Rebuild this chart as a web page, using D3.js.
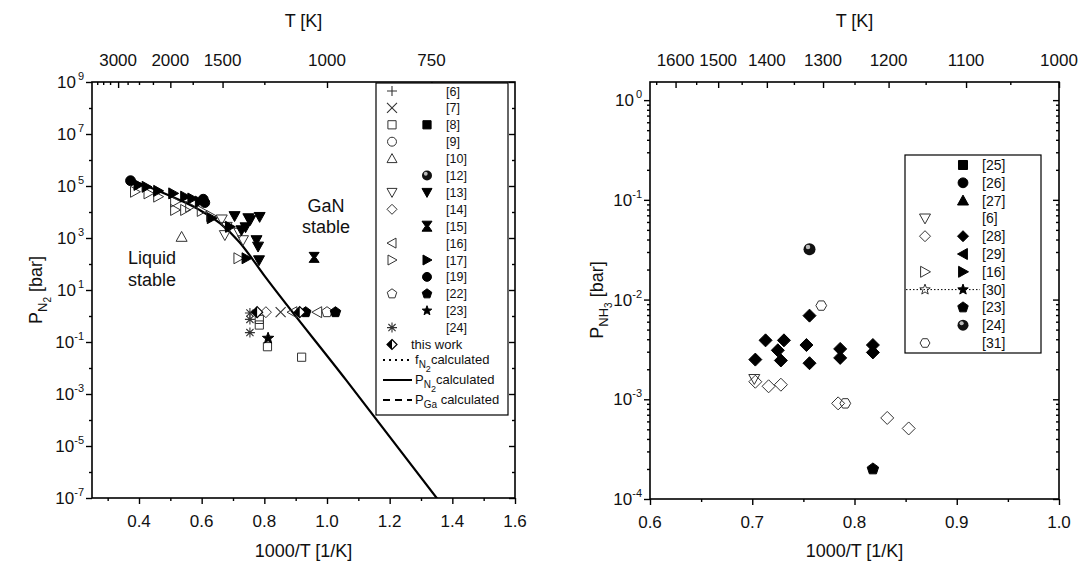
<!DOCTYPE html>
<html>
<head>
<meta charset="utf-8">
<title>GaN : N2 and NH3 pressure vs 1000/T</title>
<script src="https://d3js.org/d3.v7.min.js"></script>
<style>
  body { margin: 0; background: #fff; }
  svg text { font-family: "Liberation Sans", Arial, sans-serif; fill: #111; }
</style>
</head>
<body>
<svg id="chart" width="1081" height="564"></svg>

<script type="text/javascript">
// ---------- left panel : P_N2 [bar] vs 1000/T ----------
const leftBottomTicks = [0.4, 0.6, 0.8, 1.0, 1.2, 1.4, 1.6];
const leftBottomMinor = [0.3, 0.5, 0.7, 0.9, 1.1, 1.3, 1.5];
const leftTopTemps = [3000, 2000, 1500, 1000, 750];
const leftTopMinorTemps = [3750, 3500, 3250, 2750, 2500, 2250, 1750, 1250];
const leftYExps = [9, 7, 5, 3, 1, -1, -3, -5, -7];
const leftYMinorExps = [8, 6, 4, 2, 0, -2, -4, -6];

// [1000/T, P bar]
const pN2Calc = [[0.37, 1.78e5], [0.47, 5.9e4], [0.59, 1.26e4], [0.66, 3.55e3], [0.72, 708], [0.80, 35.5], [1.06, 3.55e-3], [1.36, 7e-8]];
const ref7 = [[0.852, 1.4]];
const ref8Open = [[0.784, 0.74], [0.784, 0.45], [0.81, 0.066], [0.919, 0.026]];
const ref10 = [[0.536, 1.1e3]];
const ref13Open = [[0.664, 5.2e3], [0.68, 2.7e3], [0.674, 1.3e3], [0.72, 1.6e3], [0.732, 830]];
const ref13Filled = [[0.705, 7.0e3], [0.749, 5.8e3], [0.785, 6.5e3], [0.727, 2.0e3], [0.74, 2.6e3], [0.755, 4.9e3], [0.775, 830], [0.78, 470], [0.783, 140]];
const ref14 = [[0.805, 1.4]];
const ref15 = [[0.959, 180]];
const ref16 = [[0.89, 1.4], [0.969, 1.4]];
const ref17Open = [[0.387, 6.0e4], [0.43, 5.2e4], [0.461, 3.9e4], [0.515, 2.5e4], [0.515, 1.2e4], [0.547, 1.2e4], [0.563, 1.6e4], [0.6, 1.1e4], [0.63, 7.0e3], [0.717, 166]];
const ref17Filled = [[0.398, 1.1e5], [0.424, 9.3e4], [0.461, 6.5e4], [0.509, 5.2e4], [0.547, 3.9e4], [0.57, 3.3e4], [0.594, 2.5e4], [0.632, 5.8e3], [0.69, 2.7e3], [0.743, 166]];
const ref19 = [[0.373, 1.6e5], [0.605, 3.1e4], [0.61, 2.3e4]];
const ref22Open = [[1.0, 1.4]];
const ref22Filled = [[0.932, 1.4], [1.027, 1.4]];
const ref23 = [[0.812, 0.14]];
const ref24 = [[0.754, 1.3], [0.754, 0.74], [0.754, 0.23]];
const thisWork = [[0.777, 1.4], [0.913, 1.4]];

const leftLegendLabels = ["[6]", "[7]", "[8]", "[9]", "[10]", "[12]", "[13]", "[14]", "[15]", "[16]", "[17]", "[19]", "[22]", "[23]", "[24]", "this work"];
const leftLegendOpen = ["plus", "cross", "square", "circle", "triUp", null, "triDown", "diamond", null, "triLeft", "triRight", null, "pentagon", null, "asterisk", "halfDiamond"];
const leftLegendFilled = [null, null, "square", null, null, "sphere", "triDown", null, "hourglass", null, "triRight", "circle", "pentagon", "star", null, null];

// ---------- right panel : P_NH3 [bar] vs 1000/T ----------
const rightBottomTicks = [0.6, 0.7, 0.8, 0.9, 1.0];
const rightBottomMinor = [0.65, 0.75, 0.85, 0.95];
const rightTopTemps = [1600, 1500, 1400, 1300, 1200, 1100, 1000];
const rightTopMinorTemps = [1650, 1550, 1450, 1350, 1250, 1150, 1050];
const rightYExps = [0, -1, -2, -3, -4];

const nh3Ref6 = [[0.702, 1.6e-3]];
const nh3Ref23 = [[0.818, 2.0e-4]];
const nh3Ref24 = [[0.756, 0.032]];
const nh3Ref28Open = [[0.703, 1.5e-3], [0.716, 1.35e-3], [0.728, 1.4e-3], [0.784, 9.1e-4], [0.832, 6.5e-4], [0.853, 5.1e-4]];
const nh3Ref28Filled = [[0.756, 6.9e-3], [0.713, 3.9e-3], [0.731, 3.9e-3], [0.753, 3.5e-3], [0.725, 3.1e-3], [0.703, 2.5e-3], [0.728, 2.45e-3], [0.786, 3.2e-3], [0.786, 2.6e-3], [0.818, 3.5e-3], [0.818, 2.95e-3], [0.756, 2.3e-3]];
const nh3Ref31 = [[0.7675, 8.7e-3], [0.791, 9.1e-4]];

const rightLegendLabels = ["[25]", "[26]", "[27]", "[6]", "[28]", "[29]", "[16]", "[30]", "[23]", "[24]", "[31]"];
const rightLegendOpen = [null, null, null, "triDown", "diamond", null, "triRight", "star", null, null, "hexagon"];
const rightLegendFilled = ["square", "circle", "triUp", null, "diamond", "triLeft", "triRight", "star", "pentagon", "sphere", null];

const svg = d3.select("#chart");

const leftX = d3.scaleLinear().domain([0.25, 1.6]).range([92, 515]);
const leftY = d3.scaleLog().domain([1e-7, 1e9]).range([498, 82]);
const rightX = d3.scaleLinear().domain([0.6, 1.0]).range([650, 1059]);
const rightY = d3.scaleLog().domain([1e-4, 1.52]).range([499, 82]);

function markerPath(type, r) {
	const poly = pts => "M" + pts.map(p => p[0].toFixed(2) + "," + p[1].toFixed(2)).join("L") + "Z";
	const ring = (n, rad, a0) => d3.range(n).map(i => {
		const a = a0 + i * 2 * Math.PI / n;
		return [rad * Math.cos(a), rad * Math.sin(a)];
	});
	const s = r * 0.82, d = r * 0.72;
	switch (type) {
		case "square": return poly([[-s, -s], [s, -s], [s, s], [-s, s]]);
		case "circle": return d3.symbol(d3.symbolCircle, Math.PI * r * r * 0.8)();
		case "triUp": return poly([[0, -r], [r, r * 0.8], [-r, r * 0.8]]);
		case "triDown": return poly([[0, r], [r, -r * 0.8], [-r, -r * 0.8]]);
		case "triLeft": return poly([[-r, 0], [r * 0.8, -r], [r * 0.8, r]]);
		case "triRight": return poly([[r, 0], [-r * 0.8, -r], [-r * 0.8, r]]);
		case "diamond": return poly([[0, -r], [r, 0], [0, r], [-r, 0]]);
		case "pentagon": return poly(ring(5, r, -Math.PI / 2));
		case "hexagon": return poly(ring(6, r * 0.9, 0));
		case "star": return poly(d3.range(10).map(i => {
			const a = -Math.PI / 2 + i * Math.PI / 5, rr = i % 2 ? r * 0.42 : r;
			return [rr * Math.cos(a), rr * Math.sin(a)];
		}));
		case "hourglass": return poly([[-r, -r], [r, -r], [r * 0.3, 0], [r, r], [-r, r], [-r * 0.3, 0]]);
		case "plus": return `M${-r},0H${r}M0,${-r}V${r}`;
		case "cross": return `M${-r},${-r}L${r},${r}M${-r},${r}L${r},${-r}`;
		case "asterisk": return `M${-r},0H${r}M0,${-r}V${r}M${-d},${-d}L${d},${d}M${-d},${d}L${d},${-d}`;
	}
}

function drawMarker(g, type, filled, cx, cy, r) {
	const m = g.append("g").attr("transform", `translate(${cx},${cy})`);
	if (type === "sphere") {
		m.append("circle").attr("r", r).attr("fill", "#111");
		m.append("circle").attr("cx", -r * 0.25).attr("cy", -r * 0.35).attr("r", r * 0.38).attr("fill", "#bbb");
		return;
	}
	if (type === "halfDiamond") {
		m.append("path").attr("d", markerPath("diamond", r)).attr("fill", "#fff").attr("stroke", "#000").attr("stroke-width", 1.2);
		m.append("path").attr("d", `M0,${-r}L${-r},0L0,${r}Z`).attr("fill", "#000");
		return;
	}
	const lineOnly = ["plus", "cross", "asterisk"].includes(type);
	m.append("path").attr("d", markerPath(type, r))
		.attr("fill", lineOnly ? "none" : (filled ? "#000" : "none"))
		.attr("stroke", filled ? "#000" : "#333")
		.attr("stroke-width", lineOnly ? 1.1 : 1);
}

function drawSeries(x, y, data, type, filled, r) {
	const g = svg.append("g");
	data.forEach(d => drawMarker(g, type, filled, x(d[0]), y(d[1]), r));
}

function tickGroup(axisFn, scale, values, size, transform) {
	svg.append("g").attr("transform", transform)
		.call(axisFn(scale).tickValues(values).tickSize(size).tickFormat(""))
		.call(g => g.select(".domain").remove())
		.selectAll("line").attr("stroke", "#000").attr("stroke-width", 1.4);
}

function expLabel(xPos, yPos, exp) {
	const t = svg.append("text").attr("x", xPos).attr("y", yPos + 6).attr("text-anchor", "end").attr("font-size", 17);
	t.append("tspan").text("10");
	t.append("tspan").attr("dy", -8).attr("dx", exp >= 0 ? 2 : 0).attr("font-size", 11).text(exp);
}

function frameAndAxes(x, y, bottomMajor, bottomMinor, topMajorT, topMinorT, yMajor, yMinor) {
	const [x0, x1] = x.range();
	const [y0, y1] = y.range();
	tickGroup(d3.axisBottom, x, bottomMajor, 6, `translate(0,${y0})`);
	tickGroup(d3.axisBottom, x, bottomMinor, 3, `translate(0,${y0})`);
	tickGroup(d3.axisTop, x, topMajorT.map(t => 1000 / t), -6, `translate(0,${y1})`);
	tickGroup(d3.axisTop, x, topMinorT.map(t => 1000 / t), -3, `translate(0,${y1})`);
	tickGroup(d3.axisLeft, y, yMajor, 6, `translate(${x0},0)`);
	tickGroup(d3.axisLeft, y, yMinor, 3, `translate(${x0},0)`);
	tickGroup(d3.axisRight, y, yMajor, -6, `translate(${x1},0)`);
	tickGroup(d3.axisRight, y, yMinor, -3, `translate(${x1},0)`);
	svg.append("rect").attr("x", x0).attr("y", y1).attr("width", x1 - x0).attr("height", y0 - y1)
		.attr("fill", "none").attr("stroke", "#000").attr("stroke-width", 1.6);

	bottomMajor.forEach(v => svg.append("text").attr("x", x(v)).attr("y", y0 + 29)
		.attr("text-anchor", "middle").attr("font-size", 17).text(d3.format(".1f")(v)));
	topMajorT.forEach(t => svg.append("text").attr("x", x(1000 / t)).attr("y", 66)
		.attr("text-anchor", "middle").attr("font-size", 17).text(t));
	yMajor.forEach(v => expLabel(x0 - 8, y(v), Math.round(Math.log10(v))));

	const cx = (x0 + x1) / 2;
	svg.append("text").attr("x", cx).attr("y", 557).attr("text-anchor", "middle").attr("font-size", 18).text("1000/T [1/K]");
	svg.append("text").attr("x", cx).attr("y", 27).attr("text-anchor", "middle").attr("font-size", 18).text("T [K]");
}

function yTitle(xPos, yPos, sub, subsub) {
	const t = svg.append("text").attr("transform", `translate(${xPos},${yPos}) rotate(-90)`)
		.attr("text-anchor", "middle").attr("font-size", 18);
	t.append("tspan").text("P");
	t.append("tspan").attr("dy", 5).attr("font-size", 13).text(sub);
	t.append("tspan").attr("dy", 4).attr("font-size", 10).text(subsub);
	t.append("tspan").attr("dy", -9).attr("font-size", 18).text(" [bar]");
}

// ---------- left panel ----------
frameAndAxes(leftX, leftY, leftBottomTicks, leftBottomMinor, leftTopTemps, leftTopMinorTemps,
	leftYExps.map(e => Math.pow(10, e)), leftYMinorExps.map(e => Math.pow(10, e)));
yTitle(42, 290, "N", "2");

svg.append("clipPath").attr("id", "clipL").append("rect")
	.attr("x", 92).attr("y", 82).attr("width", 423).attr("height", 416);

svg.append("path").datum(pN2Calc)
	.attr("clip-path", "url(#clipL)")
	.attr("fill", "none").attr("stroke", "#000").attr("stroke-width", 2.2)
	.attr("d", d3.line().x(d => leftX(d[0])).y(d => leftY(d[1])).curve(d3.curveMonotoneX));

drawSeries(leftX, leftY, ref17Open, "triRight", false, 5.5);
drawSeries(leftX, leftY, ref13Open, "triDown", false, 5.5);
drawSeries(leftX, leftY, ref10, "triUp", false, 5.5);
drawSeries(leftX, leftY, ref17Filled, "triRight", true, 5.5);
drawSeries(leftX, leftY, ref13Filled, "triDown", true, 5.5);
drawSeries(leftX, leftY, ref19, "circle", true, 5.5);
drawSeries(leftX, leftY, ref15, "hourglass", true, 5);
drawSeries(leftX, leftY, ref24, "asterisk", false, 5);
drawSeries(leftX, leftY, ref8Open, "square", false, 5);
drawSeries(leftX, leftY, ref23, "star", true, 6);
drawSeries(leftX, leftY, ref14, "diamond", false, 5.5);
drawSeries(leftX, leftY, ref7, "cross", false, 5);
drawSeries(leftX, leftY, ref16, "triLeft", false, 5.5);
drawSeries(leftX, leftY, ref22Open, "pentagon", false, 5.5);
drawSeries(leftX, leftY, ref22Filled, "pentagon", true, 5.5);
drawSeries(leftX, leftY, thisWork, "halfDiamond", true, 5.5);

svg.append("text").attr("x", 152).attr("y", 264).attr("text-anchor", "middle").attr("font-size", 18).text("Liquid");
svg.append("text").attr("x", 152).attr("y", 286).attr("text-anchor", "middle").attr("font-size", 18).text("stable");
svg.append("text").attr("x", 326).attr("y", 212).attr("text-anchor", "middle").attr("font-size", 18).text("GaN");
svg.append("text").attr("x", 326).attr("y", 233).attr("text-anchor", "middle").attr("font-size", 18).text("stable");

// left legend
svg.append("rect").attr("x", 376).attr("y", 83).attr("width", 132).attr("height", 332)
	.attr("fill", "#fff").attr("stroke", "#000").attr("stroke-width", 1.2);
const legL = svg.append("g");
leftLegendLabels.forEach((lab, i) => {
	const yy = 91 + i * 16.9;
	if (leftLegendOpen[i]) drawMarker(legL, leftLegendOpen[i], false, 392, yy, 5);
	if (leftLegendFilled[i]) drawMarker(legL, leftLegendFilled[i], true, 427, yy, 5);
	legL.append("text").attr("x", lab === "this work" ? 411 : 446).attr("y", yy + 4.5)
		.attr("font-size", lab === "this work" ? 13 : 12.5).text(lab);
});
const calcRows = [
	{ y: 360, dash: "2,4", sub: "N", subsub: "2", head: "f" },
	{ y: 380, dash: null, sub: "N", subsub: "2", head: "P" },
	{ y: 400, dash: "7,5", sub: "Ga", subsub: "", head: "P" }
];
calcRows.forEach(r => {
	legL.append("line").attr("x1", 383).attr("x2", 412).attr("y1", r.y).attr("y2", r.y)
		.attr("stroke", "#000").attr("stroke-width", 2)
		.attr("stroke-dasharray", r.dash);
	const t = legL.append("text").attr("x", 415).attr("y", r.y + 4).attr("font-size", 13);
	t.append("tspan").text(r.head);
	t.append("tspan").attr("dy", 4).attr("font-size", 10).text(r.sub);
	if (r.subsub) t.append("tspan").attr("dy", 4).attr("font-size", 9).text(r.subsub);
	t.append("tspan").attr("dy", r.subsub ? -8 : -4).attr("font-size", 13).text(r.sub === "Ga" ? " calculated" : "calculated");
});

// ---------- right panel ----------
frameAndAxes(rightX, rightY, rightBottomTicks, rightBottomMinor, rightTopTemps, rightTopMinorTemps,
	rightYExps.map(e => Math.pow(10, e)),
	d3.range(-4, 1).flatMap(e => d3.range(2, 10).map(k => k * Math.pow(10, e))).filter(v => v < 1.52));
yTitle(603, 300, "NH", "3");

drawSeries(rightX, rightY, nh3Ref28Open, "diamond", false, 6.5);
drawSeries(rightX, rightY, nh3Ref6, "triDown", false, 5.5);
drawSeries(rightX, rightY, nh3Ref31, "hexagon", false, 6);
drawSeries(rightX, rightY, nh3Ref28Filled, "diamond", true, 6.5);
drawSeries(rightX, rightY, nh3Ref23, "pentagon", true, 6);
drawSeries(rightX, rightY, nh3Ref24, "sphere", true, 6);

// right legend
svg.append("rect").attr("x", 905).attr("y", 155).attr("width", 136).attr("height", 198)
	.attr("fill", "#fff").attr("stroke", "#000").attr("stroke-width", 1.2);
const legR = svg.append("g");
rightLegendLabels.forEach((lab, i) => {
	const yy = 165 + i * 17.8;
	if (lab === "[30]") {
		legR.append("line").attr("x1", 906).attr("x2", 980).attr("y1", yy).attr("y2", yy)
			.attr("stroke", "#000").attr("stroke-width", 1).attr("stroke-dasharray", "1.5,2");
	}
	if (rightLegendOpen[i]) drawMarker(legR, rightLegendOpen[i], false, 925, yy, 5.5);
	if (rightLegendFilled[i]) drawMarker(legR, rightLegendFilled[i], true, 963, yy, 5.5);
	legR.append("text").attr("x", 982).attr("y", yy + 5).attr("font-size", 14).text(lab);
});
</script>
</body>
</html>
